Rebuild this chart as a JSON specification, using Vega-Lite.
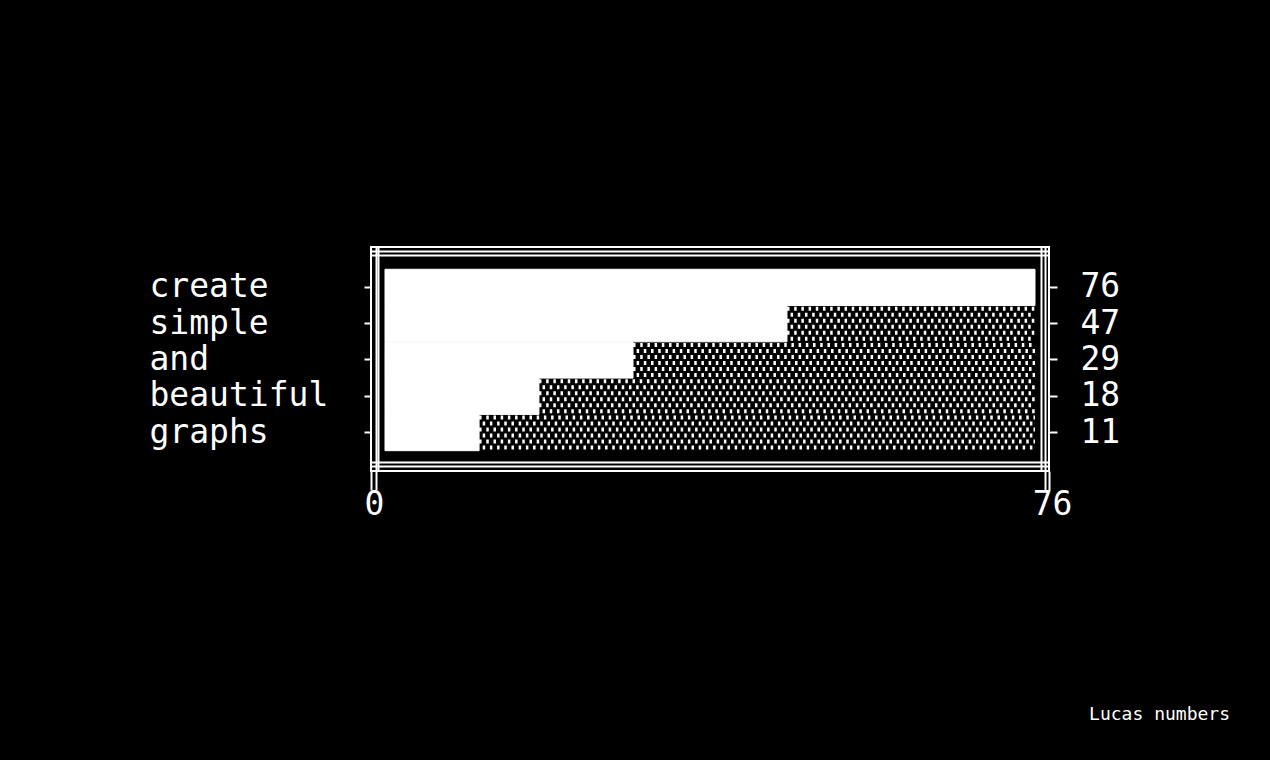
{
  "$schema": "https://vega.github.io/schema/vega-lite/v6.json",
  "width": 678,
  "height": 224,
  "autosize": "none",
  "padding": {"left": 371, "top": 247, "right": 221, "bottom": 289},
  "background": "black",
  "title": {
    "text": "Lucas numbers",
    "orient": "bottom",
    "anchor": "end",
    "frame": "group",
    "dx": 181,
    "offset": 185,
    "font": "DejaVu Sans Mono",
    "fontSize": 18,
    "fontWeight": "normal",
    "color": "white"
  },
  "data": {
    "values": [
      {"word": "create", "value": 76},
      {"word": "simple", "value": 47},
      {"word": "and", "value": 29},
      {"word": "beautiful", "value": 18},
      {"word": "graphs", "value": 11}
    ]
  },
  "layer": [
    {
      "mark": {"type": "rule", "color": "white", "strokeWidth": 4, "strokeDash": [2.5, 4.7], "strokeDashOffset": 0, "strokeCap": "butt", "yOffset": -15},
      "encoding": {
        "x": {"field": "value", "type": "quantitative", "scale": {"domain": [0, 76], "padding": 14, "nice": false, "zero": false},
          "axis": {"orient": "top", "offset": -4, "domain": true, "domainColor": "white", "domainWidth": 2, "ticks": false, "labels": false, "grid": false, "title": null}},
        "x2": {"datum": 76},
        "y": {"field": "word", "type": "nominal", "sort": null, "scale": {"type": "band", "paddingInner": 0, "paddingOuter": 0.587, "align": 0.523},
          "axis": {"orient": "left", "offset": -7, "domain": true, "domainColor": "white", "domainWidth": 2, "ticks": false, "labels": false, "grid": false, "title": null}}
      }
    },
    {
      "mark": {"type": "rule", "color": "white", "strokeWidth": 4, "strokeDash": [2.5, 4.7], "strokeDashOffset": 3.6, "strokeCap": "butt", "yOffset": -9},
      "encoding": {
        "x": {"field": "value", "type": "quantitative", "scale": {"domain": [0, 76], "padding": 14, "nice": false, "zero": false},
          "axis": {"orient": "top", "offset": -8, "domain": true, "domainColor": "white", "domainWidth": 2, "ticks": false, "labels": false, "grid": false, "title": null}},
        "x2": {"datum": 76},
        "y": {"field": "word", "type": "nominal", "sort": null, "scale": {"type": "band", "paddingInner": 0, "paddingOuter": 0.587, "align": 0.523},
          "axis": {"orient": "right", "offset": -8, "domain": true, "domainColor": "white", "domainWidth": 2, "ticks": false, "labels": false, "grid": false, "title": null}}
      }
    },
    {
      "mark": {"type": "rule", "color": "white", "strokeWidth": 4, "strokeDash": [2.5, 4.7], "strokeDashOffset": 0, "strokeCap": "butt", "yOffset": -3},
      "encoding": {
        "x": {"field": "value", "type": "quantitative", "scale": {"domain": [0, 76], "padding": 14, "nice": false, "zero": false},
          "axis": {"orient": "bottom", "offset": -5, "domain": true, "domainColor": "white", "domainWidth": 2, "ticks": false, "labels": false, "grid": false, "title": null}},
        "x2": {"datum": 76},
        "y": {"field": "value", "type": "ordinal", "sort": "descending", "scale": {"type": "band", "paddingInner": 0, "paddingOuter": 0.587, "align": 0.523},
          "axis": {"orient": "right", "domain": false, "grid": false, "ticks": true, "tickColor": "white", "tickWidth": 2, "tickSize": 8, "labelPadding": 23, "labelColor": "white", "labelFont": "DejaVu Sans Mono", "labelFontSize": 33, "labelLimit": 400, "title": null}}
      }
    },
    {
      "mark": {"type": "rule", "color": "white", "strokeWidth": 4, "strokeDash": [2.5, 4.7], "strokeDashOffset": 3.6, "strokeCap": "butt", "yOffset": 3},
      "encoding": {
        "x": {"field": "value", "type": "quantitative", "scale": {"domain": [0, 76], "padding": 14, "nice": false, "zero": false},
          "axis": {"orient": "bottom", "offset": -9, "domain": true, "domainColor": "white", "domainWidth": 2, "ticks": false, "labels": false, "grid": false, "title": null}},
        "x2": {"datum": 76},
        "y": {"field": "word", "type": "nominal", "sort": null, "scale": {"type": "band", "paddingInner": 0, "paddingOuter": 0.587, "align": 0.523}, "axis": null}
      }
    },
    {
      "mark": {"type": "rule", "color": "white", "strokeWidth": 4, "strokeDash": [2.5, 4.7], "strokeDashOffset": 0, "strokeCap": "butt", "yOffset": 9},
      "encoding": {
        "x": {"field": "value", "type": "quantitative", "scale": {"domain": [0, 76], "padding": 14, "nice": false, "zero": false}, "axis": null},
        "x2": {"datum": 76},
        "y": {"field": "word", "type": "nominal", "sort": null, "scale": {"type": "band", "paddingInner": 0, "paddingOuter": 0.587, "align": 0.523}, "axis": null}
      }
    },
    {
      "mark": {"type": "rule", "color": "white", "strokeWidth": 4, "strokeDash": [2.5, 4.7], "strokeDashOffset": 3.6, "strokeCap": "butt", "yOffset": 15},
      "encoding": {
        "x": {"field": "value", "type": "quantitative", "scale": {"domain": [0, 76], "padding": 14, "nice": false, "zero": false}, "axis": null},
        "x2": {"datum": 76},
        "y": {"field": "word", "type": "nominal", "sort": null, "scale": {"type": "band", "paddingInner": 0, "paddingOuter": 0.587, "align": 0.523}, "axis": null}
      }
    },
    {
      "mark": {"type": "bar", "color": "white", "stroke": "white", "strokeWidth": 1},
      "encoding": {
        "x": {"field": "value", "type": "quantitative", "scale": {"domain": [0, 76], "padding": 14, "nice": false, "zero": false}, "axis": null},
        "y": {"field": "word", "type": "nominal", "sort": null, "scale": {"type": "band", "paddingInner": 0, "paddingOuter": 0.587, "align": 0.523},
          "axis": {"orient": "left", "domain": false, "grid": false, "ticks": true, "tickColor": "white", "tickWidth": 2, "tickSize": 7, "labelAlign": "left", "labelBaseline": "middle", "labelPadding": 215, "labelColor": "white", "labelFont": "DejaVu Sans Mono", "labelFontSize": 33, "labelLimit": 400, "title": null}}
      }
    },
    {
      "mark": {"type": "bar", "opacity": 0},
      "encoding": {
        "x": {"field": "value", "type": "quantitative", "scale": {"domain": [0, 76], "padding": 0, "nice": false, "zero": false},
          "axis": {"orient": "bottom", "values": [0, 76], "format": "d", "domain": false, "grid": false, "ticks": true, "tickColor": "white", "tickWidth": 2, "tickSize": 19, "labelFlush": false, "labelPadding": -2, "labelOffset": 3, "labelColor": "white", "labelFont": "DejaVu Sans Mono", "labelFontSize": 33, "title": null}},
        "y": {"field": "word", "type": "nominal", "sort": null, "scale": {"type": "band", "paddingInner": 0, "paddingOuter": 0.587, "align": 0.523}, "axis": null}
      }
    },
    {
      "mark": {"type": "bar", "opacity": 0},
      "encoding": {
        "x": {"field": "value", "type": "quantitative", "scale": {"domain": [0, 76], "padding": 4.5, "nice": false, "zero": false},
          "axis": {"orient": "bottom", "values": [0, 76], "domain": false, "grid": true, "gridColor": "white", "gridWidth": 2, "gridOpacity": 1, "ticks": true, "tickColor": "white", "tickWidth": 2, "tickSize": 19, "labels": false, "title": null}},
        "y": {"field": "word", "type": "nominal", "sort": null, "scale": {"type": "band", "paddingInner": 0, "paddingOuter": 0.587, "align": 0.523}, "axis": null}
      }
    }
  ],
  "resolve": {
    "scale": {"x": "independent", "y": "independent"},
    "axis": {"x": "independent", "y": "independent"}
  },
  "config": {
    "view": {"stroke": "white", "strokeWidth": 2}
  }
}
